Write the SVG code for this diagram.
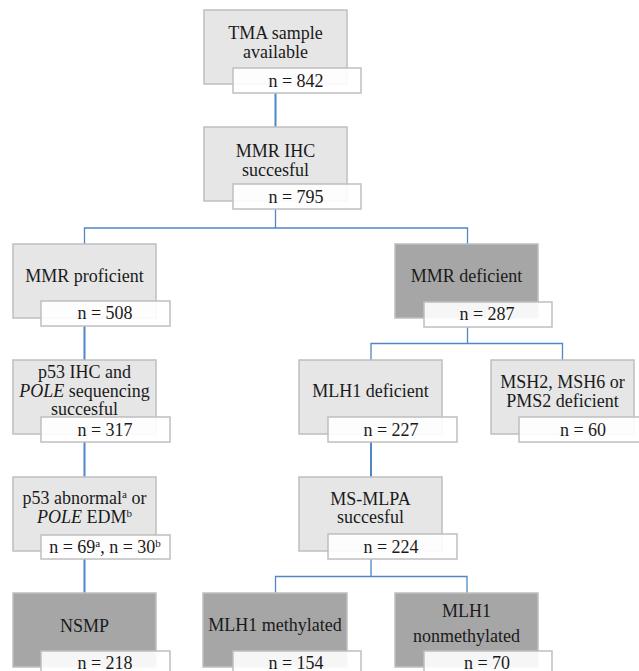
<svg xmlns="http://www.w3.org/2000/svg" width="639" height="671" viewBox="0 0 639 671" font-family="Liberation Serif, DejaVu Serif, serif">
<style>
text{font-size:18px;fill:#1a1a1a;text-anchor:middle}
.lt{fill:#e6e6e6;stroke:#bfbfbf;stroke-width:1.5}
.dk{fill:#a6a6a6;stroke:#bfbfbf;stroke-width:1.5}
.lb{fill:#ffffff;fill-opacity:0.9;stroke:#bfbfbf;stroke-width:1.5}
.c{fill:none;stroke:#4f86c6;stroke-width:2}
.cb{fill:none;stroke:#4f86c6;stroke-width:1.3}
.sup{font-size:11px}
</style>
<rect width="639" height="671" fill="#ffffff"/>
<g id="connectors">
<line class="c" x1="275.5" y1="93" x2="275.5" y2="127"/>
<path class="cb" d="M275.5 209 V228 M84.5 244 V228 H467.5 V244"/>
<line class="c" x1="84.5" y1="326" x2="84.5" y2="360"/>
<line class="c" x1="84.5" y1="442" x2="84.5" y2="477"/>
<line class="c" x1="84.5" y1="559" x2="84.5" y2="593"/>
<path class="cb" d="M467.5 327 V343.5 M371 360 V343.5 H562.5 V360"/>
<line class="c" x1="371" y1="442" x2="371" y2="477"/>
<path class="cb" d="M371 559 V576.5 M275.5 593 V576.5 H467 V593"/>
</g>
<g id="tma">
<rect class="lt" x="204" y="10" width="143" height="74"/>
<text x="275.5" y="39">TMA sample</text>
<text x="275.5" y="58">available</text>
<rect class="lb" x="233" y="68" width="128" height="25"/>
<text x="296" y="87">n = 842</text>
</g>
<g id="mmr-ihc">
<rect class="lt" x="204" y="127" width="143" height="74"/>
<text x="275.5" y="157">MMR IHC</text>
<text x="275.5" y="176">succesful</text>
<rect class="lb" x="233" y="184" width="128" height="25"/>
<text x="296" y="203">n = 795</text>
</g>
<g id="mmr-proficient">
<rect class="lt" x="13" y="244" width="143" height="74"/>
<text x="84.5" y="282">MMR proficient</text>
<rect class="lb" x="41" y="301" width="129" height="25"/>
<text x="105" y="319">n = 508</text>
</g>
<g id="p53-pole">
<rect class="lt" x="13" y="360" width="143" height="74"/>
<text x="84.5" y="378">p53 IHC and</text>
<text x="84.5" y="397"><tspan font-style="italic">POLE</tspan> sequencing</text>
<text x="84.5" y="415">succesful</text>
<rect class="lb" x="41" y="417" width="129" height="25"/>
<text x="105" y="436">n = 317</text>
</g>
<g id="p53-abnormal">
<rect class="lt" x="13" y="477" width="143" height="74"/>
<text x="84.5" y="504">p53 abnormal<tspan class="sup" dy="-6">a</tspan><tspan dy="6"> or</tspan></text>
<text x="84.5" y="523"><tspan font-style="italic">POLE</tspan> EDM<tspan class="sup" dy="-6">b</tspan></text>
<rect class="lb" x="41" y="535" width="129" height="24"/>
<text x="105" y="553">n = 69<tspan class="sup" dy="-6">a</tspan><tspan dy="6">, n = 30</tspan><tspan class="sup" dy="-6">b</tspan></text>
</g>
<g id="nsmp">
<rect class="dk" x="13" y="593" width="143" height="74"/>
<text x="84.5" y="632">NSMP</text>
<rect class="lb" x="41" y="651" width="129" height="25"/>
<text x="105" y="669">n = 218</text>
</g>
<g id="mmr-deficient">
<rect class="dk" x="395" y="244" width="143" height="74"/>
<text x="466.5" y="282">MMR deficient</text>
<rect class="lb" x="424" y="302" width="128" height="25"/>
<text x="487" y="320">n = 287</text>
</g>
<g id="mlh1-deficient">
<rect class="lt" x="299" y="360" width="143" height="74"/>
<text x="370.5" y="397">MLH1 deficient</text>
<rect class="lb" x="328" y="417" width="129" height="25"/>
<text x="391" y="436">n = 227</text>
</g>
<g id="msh">
<rect class="lt" x="491" y="360" width="143" height="74"/>
<text x="562.5" y="388">MSH2, MSH6 or</text>
<text x="562.5" y="407">PMS2 deficient</text>
<rect class="lb" x="519" y="417" width="128" height="25"/>
<text x="583" y="436">n = 60</text>
</g>
<g id="ms-mlpa">
<rect class="lt" x="299" y="477" width="143" height="74"/>
<text x="370.5" y="505">MS-MLPA</text>
<text x="370.5" y="523">succesful</text>
<rect class="lb" x="328" y="534" width="129" height="25"/>
<text x="391" y="553">n = 224</text>
</g>
<g id="mlh1-methylated">
<rect class="dk" x="203" y="593" width="144" height="74"/>
<text x="275" y="631">MLH1 methylated</text>
<rect class="lb" x="233" y="651" width="128" height="25"/>
<text x="296" y="669">n = 154</text>
</g>
<g id="mlh1-nonmethylated">
<rect class="dk" x="395" y="593" width="143" height="74"/>
<text x="466.5" y="617">MLH1</text>
<text x="466.5" y="642">nonmethylated</text>
<rect class="lb" x="424" y="651" width="128" height="25"/>
<text x="487" y="669">n = 70</text>
</g>
</svg>
